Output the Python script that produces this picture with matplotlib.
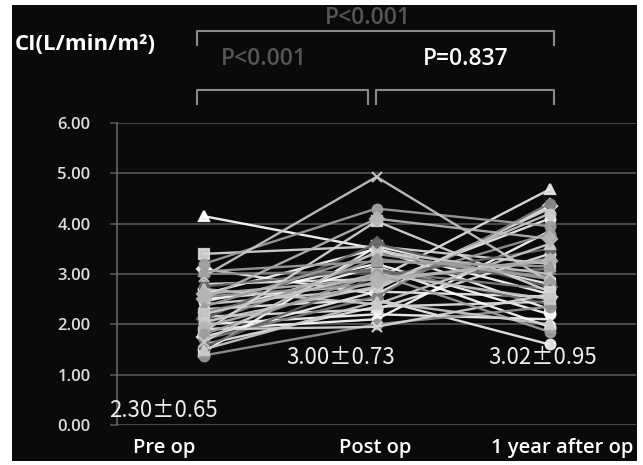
import matplotlib
matplotlib.use("Agg")
import matplotlib.pyplot as plt
from matplotlib.patches import Rectangle

# ---- data ----
timepoints = ["Pre op", "Post op", "1 year after op"]
pre_op = [4.15, 3.40, 3.20, 3.10, 3.00, 2.95, 2.80, 2.75, 2.70, 2.60,
          2.55, 2.50, 2.45, 2.40, 2.35, 2.30, 2.25, 2.20, 2.15, 2.10,
          2.05, 2.00, 2.00, 1.95, 1.90, 1.85, 1.80, 1.75, 1.70, 1.65,
          1.60, 1.55, 1.50, 1.45, 1.38, 2.60, 2.20, 1.90, 3.05, 2.50]
post_op = [3.50, 3.55, 4.30, 2.60, 3.05, 4.93, 2.90, 3.10, 2.40, 3.50,
           2.80, 4.10, 3.20, 2.70, 3.40, 2.50, 2.95, 3.00, 2.30, 3.60,
           2.75, 2.20, 3.30, 2.85, 2.10, 4.05, 3.00, 2.65, 2.55, 3.45,
           2.35, 2.95, 2.45, 3.55, 2.00, 2.90, 3.15, 1.95, 3.25, 2.80]
one_year = [2.60, 3.20, 3.95, 4.35, 2.70, 2.85, 4.68, 2.40, 3.60, 2.30,
            3.80, 3.70, 2.20, 4.30, 2.90, 1.60, 3.10, 2.50, 3.40, 2.75,
            4.20, 2.10, 2.95, 3.30, 3.85, 2.65, 1.85, 2.55, 4.40, 3.00,
            2.45, 3.50, 2.00, 2.80, 2.35, 3.25, 1.95, 2.60, 3.15, 4.10]
mean_labels = ["2.30\u00b10.65", "3.00\u00b10.73", "3.02\u00b10.95"]
p_values = ["P<0.001", "P<0.001", "P=0.837"]
y_ticks = [0, 1, 2, 3, 4, 5, 6]

W, H = 643, 465
fig = plt.figure(figsize=(W / 100, H / 100), dpi=100)
fig.patch.set_facecolor("white")
bg = Rectangle((12 / W, 4 / H), (637 - 12) / W, (460 - 4) / H,
               transform=fig.transFigure, facecolor="#0a0a0a",
               edgecolor="none", zorder=-10)
fig.patches.append(bg)

def fx(px):
    return px / W

def fy(py):
    return 1 - py / H

ax = fig.add_axes([fx(117), fy(425), fx(636) - fx(117), fy(123) - fy(425)])
ax.set_zorder(5)
ax.patch.set_alpha(0)
ax.set_xlim(-0.5, 2.5)
ax.set_ylim(0, 6)
ax.set_yticks(y_ticks)
ax.set_yticklabels([f"{v:.2f}" for v in y_ticks], fontsize=12,
                   color="#dddddd", family="Open Sans", fontweight="semibold")
ax.set_xticks([])
ax.tick_params(axis="y", length=5, color="#555555", width=1.2, pad=14)
ax.grid(axis="y", color="#555555", linewidth=1.2)
ax.set_axisbelow(True)
for s in ["top", "right", "bottom"]:
    ax.spines[s].set_visible(False)
ax.spines["left"].set_color("#666666")
ax.spines["left"].set_linewidth(1.2)

grays = ["#ffffff", "#d8d8d8", "#a0a0a0", "#f0f0f0", "#808080", "#c8c8c8",
         "#e6e6e6", "#656565", "#cccccc", "#fafafa", "#959595", "#b5b5b5"]
markers = ["^", "s", "o", "D", "o", "x", "^", "o"]
xs = [0, 1, 2]
for i in range(len(pre_op)):
    c = grays[i % len(grays)]
    ax.plot(xs, [pre_op[i], post_op[i], one_year[i]], color=c, lw=1.7,
            marker=markers[i % len(markers)], markersize=7, mew=1.6,
            alpha=0.92, zorder=2 + (i % 3))

# category labels
cat_x = [164, 375, 562]
for lbl, x in zip(timepoints, cat_x):
    fig.text(fx(x), fy(448), lbl, ha="center", va="center", color="white",
             fontsize=14.5, family="Open Sans", fontweight="semibold",
             zorder=10)

# mean labels
mean_pos = [(163, 410), (341, 357), (543, 357)]
for lbl, (x, y) in zip(mean_labels, mean_pos):
    fig.text(fx(x), fy(y), lbl, ha="center", va="center", color="#eeeeee",
             fontsize=16, family=["Noto Sans CJK JP", "DejaVu Sans"],
             zorder=10)

# y label
fig.text(fx(15), fy(45), "CI(L/min/m\u00b2)", ha="left", va="center",
         color="white", fontsize=16, family="Open Sans", fontweight="bold",
         zorder=10)

# brackets
def bracket(x0, x1, ytop, ybot):
    fig.add_artist(plt.Line2D([fx(x0), fx(x0), fx(x1), fx(x1)],
                              [fy(ybot), fy(ytop), fy(ytop), fy(ybot)],
                              transform=fig.transFigure, color="#8a8a8a",
                              lw=1.5))

bracket(197, 554, 31, 45)
bracket(197, 368, 90, 104)
bracket(376, 554, 90, 104)

fig.text(fx(368), fy(18), p_values[0], ha="center", va="center",
         color="#555555", fontsize=16.5, family="Open Sans", fontweight="semibold")
fig.text(fx(264), fy(59), p_values[1], ha="center", va="center",
         color="#555555", fontsize=16.5, family="Open Sans", fontweight="semibold")
fig.text(fx(466), fy(59), p_values[2], ha="center", va="center",
         color="white", fontsize=16.5, family="Open Sans", fontweight="semibold")

fig.savefig("out.png", dpi=100, facecolor=fig.get_facecolor())
